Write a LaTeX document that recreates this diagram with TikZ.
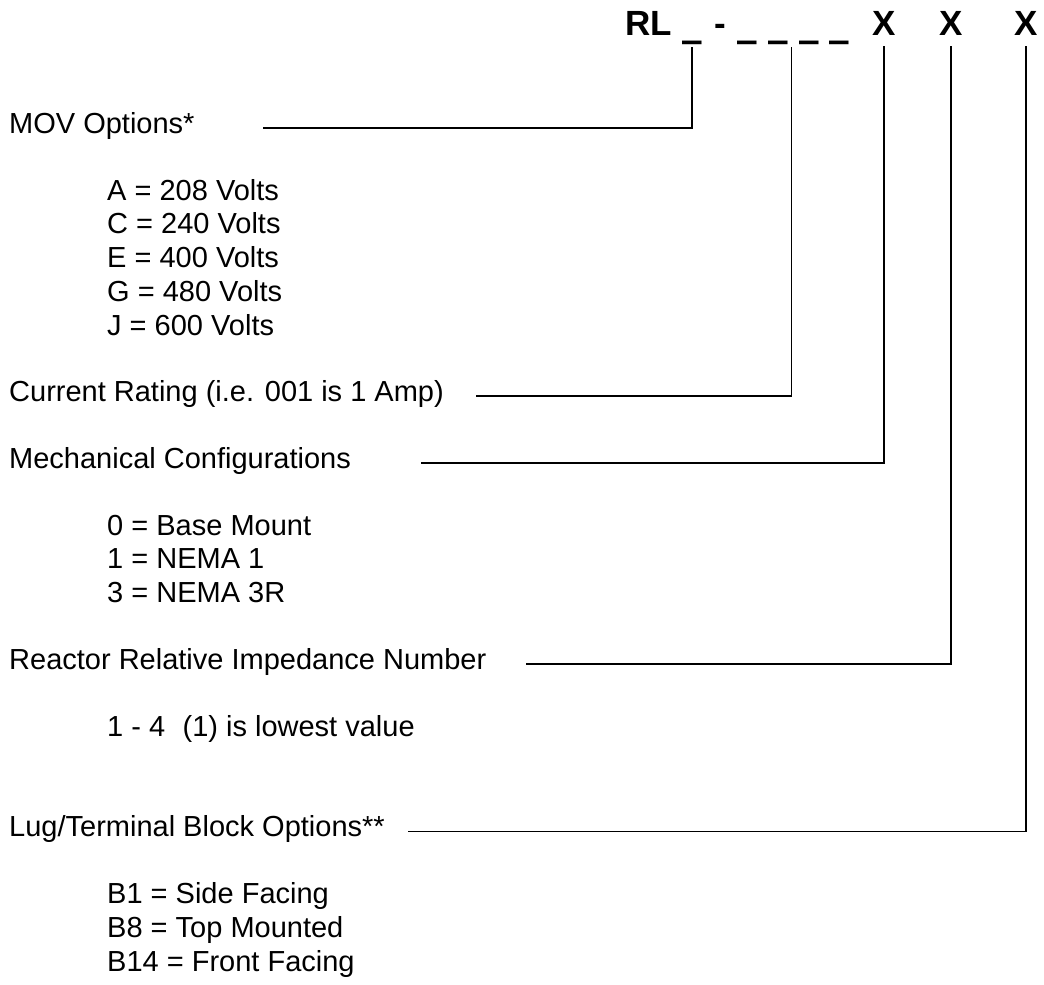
\documentclass[tikz,border=0pt]{standalone}
\usepackage{fontspec}
\setmainfont{Liberation Sans}
\newfontfamily\barfont{DejaVu Sans}
\usetikzlibrary{positioning, calc}

\begin{document}
\begin{tikzpicture}[
        x=1pt, y=-1pt,
        head/.style={inner sep=0pt, anchor=base west, font=\fontsize{35}{40}\selectfont\bfseries},
        blank/.style={head, font=\fontsize{39}{44}\selectfont\barfont\bfseries},
        field/.style={inner sep=0pt, anchor=base west, font=\fontsize{29}{33.5}\selectfont},
        choice/.style={field, text height=24pt, text depth=9.5pt},
        link/.style={line width=1.5pt}
    ]
        \useasboundingbox (0,0) rectangle (1044,985);

        % part number
        \node[head] (RL) at (625,35) {RL};
        \node[blank] (MOVMARK) at (682,35) {\_};
        \node[head] (DASH) at (714,35) {-};
        \node[blank] (CUR1) at (737,35) {\_};
        \node[blank, base right=11pt of CUR1] (CUR2) {\_};
        \node[blank, base right=11pt of CUR2] (CUR3) {\_};
        \node[blank, base right=11pt of CUR3] (CUR4) {\_};
        \node[head] (MECHX) at (872,35) {X};
        \node[head] (IMPX) at (939,35) {X};
        \node[head] (LUGX) at (1014,35) {X};

        % MOV options
        \node[field] (MOV) at (9,133) {MOV Options*};
        \node[choice] (OPTA) at (107,200) {A = 208 Volts};
        \node[choice, below right=0pt and 0pt of OPTA.south west] (OPTC) {C = 240 Volts};
        \node[choice, below right=0pt and 0pt of OPTC.south west] (OPTE) {E = 400 Volts};
        \node[choice, below right=0pt and 0pt of OPTE.south west] (OPTG) {G = 480 Volts};
        \node[choice, below right=0pt and 0pt of OPTG.south west] (OPTJ) {J = 600 Volts};

        % current rating
        \node[field] (CUR) at (9,401) {Current Rating (i.e. 001 is 1 Amp)};

        % mechanical configurations
        \node[field] (MECH) at (9,468) {Mechanical Configurations};
        \node[choice] (CONF0) at (107,535) {0 = Base Mount};
        \node[choice, below right=0pt and 0pt of CONF0.south west] (CONF1) {1 = NEMA 1};
        \node[choice, below right=0pt and 0pt of CONF1.south west] (CONF3) {3 = NEMA 3R};

        % impedance
        \node[field] (IMP) at (9,669) {Reactor Relative Impedance Number};
        \node[choice] (IMPVAL) at (107,736) {1 - 4\hspace{0.6em}(1) is lowest value};

        % lug / terminal block
        \node[field] (LUG) at (9,836.5) {Lug/Terminal Block Options**};
        \node[choice] (LUGB1) at (107,903.5) {B1 = Side Facing};
        \node[choice, below right=0pt and 0pt of LUGB1.south west] (LUGB8) {B8 = Top Mounted};
        \node[choice, below right=0pt and 0pt of LUGB8.south west] (LUGB14) {B14 = Front Facing};

        % leader lines
        \coordinate (MOVEND) at (263,128);
        \coordinate (CUREND) at (476,396);
        \coordinate (MECHEND) at (421,463);
        \coordinate (IMPEND) at (526,664);
        \coordinate (LUGEND) at (408,831.5);

        \draw[link] (MOVEND) -| ([yshift=-12pt]MOVMARK.base);
        \draw[link] (CUREND) -| ($(CUR2.base)!0.5!(CUR3.base)+(-2,12)$);
        \draw[link] (MECHEND) -| ([yshift=-11pt]MECHX.base);
        \draw[link] (IMPEND) -| ([yshift=-11pt]IMPX.base);
        \draw[link] (LUGEND) -| ([yshift=-11pt]LUGX.base);
    \end{tikzpicture}
\end{document}
